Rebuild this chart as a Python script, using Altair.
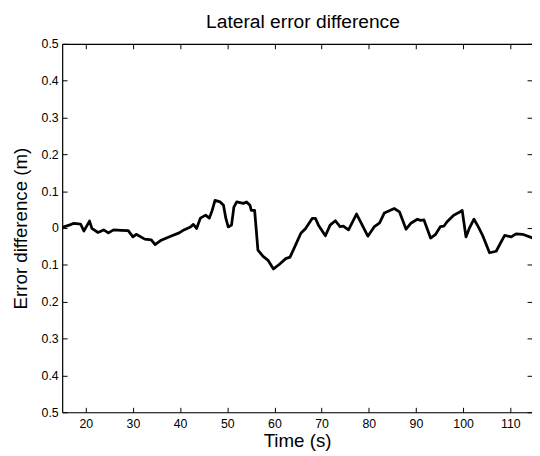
import altair as alt
import pandas as pd

# Data
times = [15.0, 16.5, 17.5, 18.9, 19.6, 20.8, 21.3, 22.6, 23.8, 24.8,
         25.9, 27.5, 29.0, 30.0, 30.7, 32.5, 33.9, 34.7, 36.0, 38.0,
         39.8, 40.8, 42.2, 42.8, 43.5, 44.3, 45.4, 46.2, 46.8, 47.4,
         48.5, 49.2, 49.7, 50.2, 50.9, 51.4, 52.0, 53.4, 54.1, 54.8,
         55.1, 55.8, 56.5, 57.6, 58.6, 59.8, 61.0, 62.4, 63.3, 64.3,
         65.6, 66.6, 68.0, 68.7, 69.4, 70.8, 71.8, 72.9, 73.9, 74.6,
         75.7, 77.4, 78.1, 79.8, 81.2, 82.3, 83.3, 85.4, 86.5, 87.9,
         88.9, 90.3, 91.0, 91.7, 93.1, 94.1, 95.2, 95.9, 96.6, 98.0,
         99.4, 99.8, 100.6, 101.3, 102.3, 103.2, 104.2, 105.6, 107.0, 108.8,
         110.2, 111.2, 112.6, 114.7]
values = [0.002, 0.008, 0.013, 0.011, -0.008, 0.019, -0.001, -0.012, -0.005, -0.013,
          -0.005, -0.006, -0.007, -0.024, -0.017, -0.030, -0.032, -0.045, -0.033, -0.022,
          -0.013, -0.005, 0.003, 0.010, -0.001, 0.027, 0.035, 0.027, 0.048, 0.075,
          0.071, 0.062, 0.026, 0.003, 0.008, 0.057, 0.071, 0.067, 0.071, 0.062,
          0.048, 0.048, -0.060, -0.077, -0.087, -0.111, -0.099, -0.083, -0.079, -0.051,
          -0.014, -0.001, 0.026, 0.026, 0.006, -0.021, 0.008, 0.020, 0.004, 0.005,
          -0.005, 0.038, 0.021, -0.022, 0.004, 0.014, 0.041, 0.053, 0.044, -0.003,
          0.013, 0.024, 0.021, 0.022, -0.027, -0.018, 0.004, 0.005, 0.017, 0.035,
          0.044, 0.048, -0.024, -0.001, 0.024, 0.004, -0.022, -0.067, -0.063, -0.020,
          -0.024, -0.016, -0.017, -0.027]
x_ticks = [20, 30, 40, 50, 60, 70, 80, 90, 100, 110]
y_ticks = [-0.5, -0.4, -0.3, -0.2, -0.1, 0, 0.1, 0.2, 0.3, 0.4, 0.5]
x_domain = [15, 114.6]
y_domain = [-0.5, 0.5]

df = pd.DataFrame({"t": times, "v": values})

W, H = 477, 374
FONT = "Liberation Sans"

xs = alt.Scale(domain=x_domain, nice=False, zero=False)
ys = alt.Scale(domain=y_domain, nice=False, zero=False)
lab_expr = "datum.value == 0 ? '0' : format(abs(datum.value), '.1f')"

base = alt.Chart(df)

main = base.mark_line(color="black", strokeWidth=2.8, strokeJoin="round", clip=True).encode(
    x=alt.X("t:Q", scale=xs, axis=alt.Axis(
        orient="bottom", values=x_ticks, tickSize=0, labelPadding=5, grid=False,
        domainColor="black", domainWidth=1.2, labelFont=FONT, labelFontSize=12.5,
        labelColor="black", title="Time (s)", titleFont=FONT, titleFontSize=19,
        titleFontWeight="normal", titleColor="black", titleY=35, titleBaseline="alphabetic")),
    y=alt.Y("v:Q", scale=ys, axis=alt.Axis(
        orient="left", values=y_ticks, tickSize=0, labelPadding=4, grid=False,
        labelExpr=lab_expr, domainColor="black", domainWidth=1.2, labelFont=FONT,
        labelFontSize=12.5, labelColor="black", title="Error difference (m)",
        titleFont=FONT, titleFontSize=19, titleFontWeight="normal", titleColor="black",
        titleX=-42, titleY=H / 2, titleAngle=-90, titleBaseline="middle", titleAlign="center")),
)

# inward ticks on bottom and left edges
inner_bl = base.mark_line(opacity=0).encode(
    x=alt.X("t:Q", scale=xs, axis=alt.Axis(
        orient="top", offset=-H, values=x_ticks, tickSize=5, tickColor="black",
        labels=False, domain=False, grid=False, title="")),
    y=alt.Y("v:Q", scale=ys, axis=alt.Axis(
        orient="right", offset=-W, values=y_ticks, tickSize=5, tickColor="black",
        labels=False, domain=False, grid=False, title="")),
)

# top frame line with inward ticks, and inward ticks at right edge
inner_tr = base.mark_line(opacity=0).encode(
    x=alt.X("t:Q", scale=xs, axis=alt.Axis(
        orient="bottom", offset=-H, values=x_ticks, tickSize=5, tickColor="black",
        labels=False, domain=True, domainColor="black", domainWidth=1.2,
        grid=False, title="")),
    y=alt.Y("v:Q", scale=ys, axis=alt.Axis(
        orient="left", offset=-W, values=y_ticks, tickSize=5, tickColor="black",
        labels=False, domain=False, grid=False, title="")),
)

chart = alt.layer(main, inner_bl, inner_tr).resolve_scale(
    x="independent", y="independent"
).properties(
    width=W, height=H,
    title=alt.Title("Lateral error difference", font=FONT, fontSize=19.5,
                    fontWeight="normal", color="black", offset=13,
                    baseline="alphabetic", anchor="middle", frame="group", dx=6, dy=22),
    autosize=alt.AutoSizeParams(type="none"),
    padding={"left": 55, "top": 33, "right": 0, "bottom": 41},
).configure_view(strokeWidth=0).configure(background="white")

chart.save("out.html", embed_options={"renderer": "svg", "actions": False})
